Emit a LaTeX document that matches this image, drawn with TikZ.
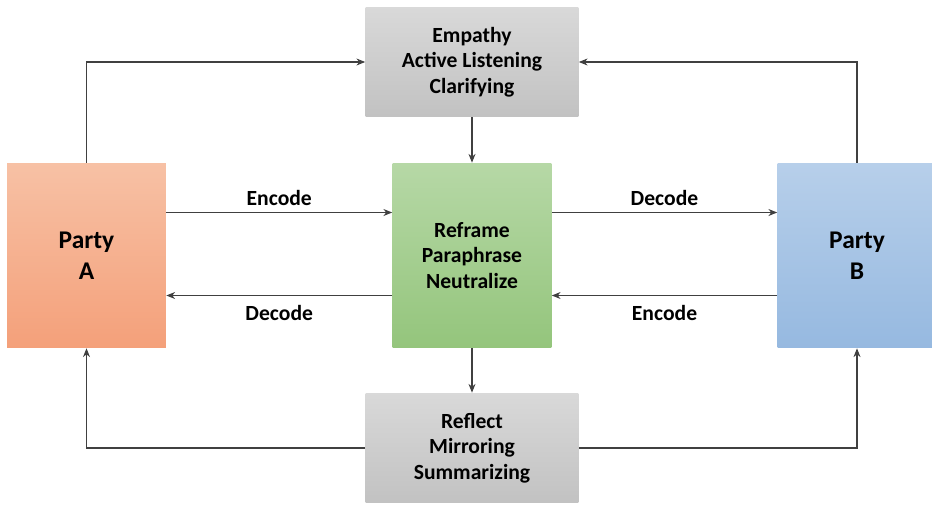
\documentclass[tikz,border=0pt]{standalone}
\usepackage{fontspec}
\setmainfont{Carlito}
\usetikzlibrary{arrows.meta}

\tikzset{
    box/.style={minimum width=3.18cm, minimum height=3.7cm, align=center,
        font=\bfseries\fontsize{12.3}{14.5}\selectfont, inner sep=0pt},
    party/.style={box, font=\bfseries\fontsize{14.5}{17.5}\selectfont},
    skill/.style={box, minimum width=4.26cm, minimum height=2.2cm,
        top color=gray!30, bottom color=gray!48},
    arr/.style={-{Stealth[length=5pt,width=4pt]}, line width=0.6pt, black!75},
    lbl/.style={text=black, font=\bfseries\fontsize{12.3}{14.5}\selectfont}
}

\begin{document}
\begin{tikzpicture}[x=0.02cm, y=-0.02cm]
    \useasboundingbox (0,0) rectangle (932,504);
    \node[party, top color={rgb,255:red,247;green,193;blue,165}, bottom color={rgb,255:red,244;green,160;blue,122}]
        (partyA) at (86.5,255.5) {Party\\A};
    \node[party, top color={rgb,255:red,183;green,207;blue,234}, bottom color={rgb,255:red,150;green,185;blue,224}]
        (partyB) at (857,255.5) {Party\\B};
    \node[box, top color={rgb,255:red,182;green,216;blue,166}, bottom color={rgb,255:red,148;green,197;blue,124}]
        (mediator) at (472,255.5) {Reframe\\Paraphrase\\Neutralize};
    \node[skill] (listen) at (472,62) {Empathy\\Active Listening\\Clarifying};
    \node[skill] (reflect) at (472,448) {Reflect\\Mirroring\\Summarizing};

    \draw[arr] (partyA.north) |- (listen.west);
    \draw[arr] (partyB.north) |- (listen.east);
    \draw[arr] (listen.south) -- (mediator.north);
    \draw[arr] (mediator.south) -- (reflect.north);
    \draw[arr] (reflect.west) -| (partyA.south);
    \draw[arr] (reflect.east) -| (partyB.south);

    \draw[arr] ([yshift=0.86cm]partyA.east) -- node[lbl, above] {Encode} ([yshift=0.86cm]mediator.west);
    \draw[arr] ([yshift=-0.8cm]mediator.west) -- node[lbl, below=2pt] {Decode} ([yshift=-0.8cm]partyA.east);
    \draw[arr] ([yshift=0.86cm]mediator.east) -- node[lbl, above] {Decode} ([yshift=0.86cm]partyB.west);
    \draw[arr] ([yshift=-0.8cm]partyB.west) -- node[lbl, below=2pt] {Encode} ([yshift=-0.8cm]mediator.east);
\end{tikzpicture}
\end{document}
